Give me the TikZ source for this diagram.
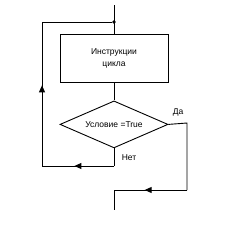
\documentclass[tikz,border=0pt]{standalone}
\usepackage{fontspec}
\setmainfont{Liberation Sans}
\usetikzlibrary{shapes.geometric, arrows.meta, positioning, decorations.markings}

\begin{document}
\begin{tikzpicture}[x=1pt, y=-1pt,
    block/.style={rectangle, draw, line width=0.9pt, minimum width=108pt, minimum height=48pt, align=center, font=\fontsize{8.5}{12}\selectfont},
    cond/.style={diamond, draw, line width=0.9pt, aspect=2.3, inner sep=0pt, minimum width=108pt, minimum height=47pt, font=\fontsize{8.5}{12}\selectfont},
    line/.style={draw, line width=0.9pt},
    dot/.style={circle, fill, inner sep=1.3pt},
    lbl/.style={font=\fontsize{8.5}{12}\selectfont},
    midarrow/.style={postaction={decorate}, decoration={markings, mark=at position #1 with {\arrow{Triangle[length=7pt, width=6pt]}}}}
]
\useasboundingbox (0,0) rectangle (230,225);

% Loop body and condition
\coordinate (entry) at (114,5);
\node[dot] (join) at (114,22) {};
\node[block] (body) at (114,58) {Инструкции\\цикла};
\node[cond, below=18pt of body] (test) {Условие =True};

% Return branch
\coordinate (nobot) at (114,166);
\coordinate (lowleft) at (42,166);
\coordinate (upleft) at (42,22);

% Exit branch
\coordinate (yesright) at (187,123);
\coordinate (yesbot) at (187,190);
\coordinate (exitturn) at (114,190);
\coordinate (exit) at (114,210);

\node[lbl] (yes) at (178,112) {Да};
\node[lbl] (no) at (129,158) {Нет};

\draw[line] (entry) -- (body);
\draw[line] (body) -- (test);
\draw[line] (test.south) -- (nobot);
\draw[line, midarrow=0.55] (nobot) -- (lowleft);
\draw[line, midarrow=0.56] (lowleft) -- (upleft);
\draw[line] (upleft) -- (join);
\draw[line] (test.east) -- (yesright) -- (yesbot);
\draw[line, midarrow=0.58] (yesbot) -- (exitturn);
\draw[line] (exitturn) -- (exit);
\end{tikzpicture}
\end{document}
